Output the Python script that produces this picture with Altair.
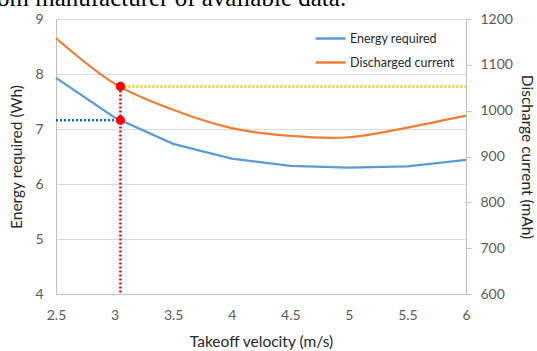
import altair as alt
import pandas as pd

# ---- data ----
velocity = [2.5, 3.0, 3.5, 4.0, 4.5, 5.0, 5.5, 6.0]
energy_wh = [7.93, 7.21, 6.73, 6.46, 6.33, 6.30, 6.32, 6.44]
current_mah = [1158, 1059, 1002, 962, 945, 942, 963, 989]
series_names = ["Energy required", "Discharged current"]
op_velocity = [3.05]
op_energy = [7.16]
op_current = [1053]
x_ticks = [2.5, 3, 3.5, 4, 4.5, 5, 5.5, 6]
left_ticks = [4, 5, 6, 7, 8, 9]
right_ticks = [600, 700, 800, 900, 1000, 1100, 1200]
caption = ["om manufacturer of available data."]

FONT = "Lato"
BLUE = "#5B9BD5"
ORANGE = "#ED7D31"
AXIS_GREY = "#BFBFBF"
GRID = "#D9D9D9"
LABEL = "#595959"
TITLE = "#262626"
LSIZE = 14
TSIZE = 15.5

df = pd.DataFrame({"v": velocity, "e": energy_wh, "c": current_mah})
df_e = df.assign(s=series_names[0])
df_c = df.assign(s=series_names[1])
op = pd.DataFrame({
    "v": op_velocity, "e": op_energy, "c": op_current,
    "x0": [x_ticks[0]], "x1": [x_ticks[-1]], "cmin": [right_ticks[0]],
})
cap = pd.DataFrame({"t": caption})

xscale = alt.Scale(domain=[x_ticks[0], x_ticks[-1]], nice=False, zero=False)
x_axis = alt.Axis(values=x_ticks, format="~g", title="Takeoff velocity (m/s)",
                  grid=False, ticks=False, domainColor=AXIS_GREY, domainWidth=1,
                  labelFlush=False, labelPadding=14, titlePadding=12,
                  labelFont=FONT, labelFontSize=LSIZE,
                  labelColor=LABEL, titleFont=FONT, titleFontSize=TSIZE,
                  titleFontWeight="normal", titleColor=TITLE)


def X(field):
    return alt.X(field, scale=xscale, axis=x_axis, title="Takeoff velocity (m/s)")


yl_scale = alt.Scale(domain=[left_ticks[0], left_ticks[-1]], nice=False, zero=False)
yl_axis = alt.Axis(values=left_ticks, title="Energy required (Wh)", grid=True,
                   gridColor=GRID, gridWidth=1, ticks=False, domainColor=AXIS_GREY,
                   labelFlush=False, labelPadding=13, titlePadding=10,
                   labelFont=FONT, labelFontSize=LSIZE,
                   labelColor=LABEL, titleFont=FONT, titleFontSize=TSIZE,
                   titleFontWeight="normal", titleColor=TITLE)
yr_scale = alt.Scale(domain=[right_ticks[0], right_ticks[-1]], nice=False, zero=False)
yr_axis = alt.Axis(values=right_ticks, orient="right", format="d",
                   title="Discharge current (mAh)",
                   grid=False, ticks=True, tickSize=5, tickColor=AXIS_GREY,
                   domainColor=AXIS_GREY, labelFlush=False, labelPadding=9,
                   titlePadding=6,
                   labelFont=FONT, labelFontSize=LSIZE, labelColor=LABEL,
                   titleFont=FONT, titleFontSize=TSIZE, titleFontWeight="normal",
                   titleColor=TITLE)


def YL(field):
    return alt.Y(field, scale=yl_scale, axis=yl_axis, title="Energy required (Wh)")


def YR(field):
    return alt.Y(field, scale=yr_scale, axis=yr_axis, title="Discharge current (mAh)")


color = alt.Color(
    "s:N",
    scale=alt.Scale(domain=series_names, range=[BLUE, ORANGE]),
    legend=alt.Legend(orient="none", legendX=258, legendY=3, title=None,
                      symbolType="stroke", symbolSize=900, symbolStrokeWidth=2.5,
                      labelFont=FONT, labelFontSize=12.5, labelColor="#262626",
                      rowPadding=1, padding=0, labelOffset=3),
)

blue_line = alt.Chart(df_e).mark_line(strokeWidth=2.25).encode(
    x=X("v:Q"), y=YL("e:Q"), color=color)
blue_dot = alt.Chart(op).mark_rule(color="#0070C0", strokeWidth=2.5, strokeDash=[2, 2]).encode(
    x=X("x0:Q"), x2="v:Q", y=YL("e:Q"))
red_pt_l = alt.Chart(op).mark_circle(color="#FF0000", size=85, opacity=1).encode(
    x=X("v:Q"), y=YL("e:Q"))
left = alt.layer(blue_line, blue_dot, red_pt_l)

orange_line = alt.Chart(df_c).mark_line(strokeWidth=2.25, interpolate="cardinal").encode(
    x=X("v:Q"), y=YR("c:Q"), color=color)
yellow_dot = alt.Chart(op).mark_rule(color="#FFC000", strokeWidth=2.5, strokeDash=[2, 2]).encode(
    x=X("v:Q"), x2="x1:Q", y=YR("c:Q"))
red_rule = alt.Chart(op).mark_rule(color="#FF0000", strokeWidth=2.5, strokeDash=[2, 2]).encode(
    x=X("v:Q"), y=YR("c:Q"), y2="cmin:Q")
red_pt_r = alt.Chart(op).mark_circle(color="#FF0000", size=85, opacity=1).encode(
    x=X("v:Q"), y=YR("c:Q"))
right = alt.layer(orange_line, yellow_dot, red_rule, red_pt_r)

caption_layer = alt.Chart(cap).mark_text(
    font="Liberation Serif", fontSize=25, align="left", baseline="alphabetic",
    color="#000000").encode(x=alt.value(-59), y=alt.value(-13), text="t:N")

chart = alt.layer(left, right, caption_layer).resolve_scale(y="independent").properties(
    width=410, height=275,
    padding={"left": 56, "top": 19, "right": 71, "bottom": 57},
    autosize=alt.AutoSizeParams(type="none"),
).configure_view(stroke=None).configure(background="white")

chart.save("out.html", embed_options={"renderer": "svg", "actions": False})
